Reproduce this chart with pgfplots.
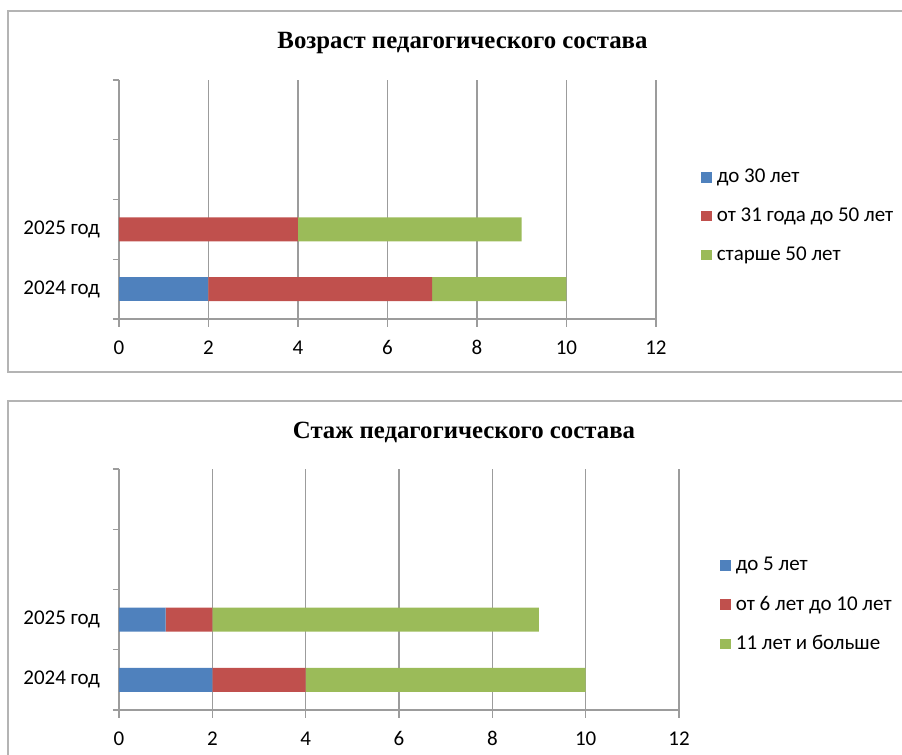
\documentclass[border=0pt]{standalone}
\usepackage{pgfplots}
\pgfplotsset{compat=1.18}
\usepackage{fontspec}
\setmainfont{Carlito}
\newfontfamily\titlefont{Liberation Serif}
\definecolor{cblue}{HTML}{4F81BD}
\definecolor{cred}{HTML}{C0504D}
\definecolor{cgreen}{HTML}{9BBB59}
\definecolor{gridgray}{HTML}{9C9C9C}
\definecolor{framegray}{HTML}{B4B4B4}
\pgfplotsset{
  sqleg/.style={legend image code/.code={\fill[##1,draw=none] (0pt,-2.6pt) rectangle (5.4pt,2.6pt);}},
  mystyle/.style={
    xbar stacked, scale only axis,
    xmin=0, xmax=12, ymin=0, ymax=4,
    xtick={0,2,...,12},
    ytick={0.5,1.5}, yticklabels={2024 год,2025 год},
    minor ytick={0,1,2,3,4},
    axis lines*=left,
    tick align=outside,
    major tick length=4pt, minor tick length=3pt,
    major y tick style={draw=none},
    every tick/.style={gridgray, line width=0.7pt},
    minor y tick style={gridgray, line width=0.7pt},
    axis line style={gridgray, line width=0.7pt},
    xmajorgrids, grid style={gridgray, line width=0.7pt},
    bar width=12pt,
    tick label style={font=\fontsize{10.5}{12}\selectfont},
    /pgf/number format/assume math mode=true,
    xticklabel style={yshift=-3pt, text height=7.2pt, text depth=0pt},
    yticklabel style={xshift=-2pt},
    legend style={draw=none, fill=none, anchor=west,
      font=\fontsize{10.5}{12}\selectfont, row sep=7pt,
      nodes={inner xsep=2.5pt}},
    legend cell align=left,
  }
}
\begin{document}
\begin{tikzpicture}
\useasboundingbox (0,0) rectangle (451pt,377.5pt);
\clip (0,0) rectangle (451pt,377.5pt);
\draw[framegray, line width=0.8pt] (460pt,372pt) -- (4pt,372pt) -- (4pt,191.5pt) -- (460pt,191.5pt);
\draw[framegray, line width=0.8pt] (460pt,177pt) -- (4pt,177pt) -- (4pt,-10pt);
\node[font=\titlefont\bfseries\fontsize{12.4}{14}\selectfont] at (231.25pt,356pt) {Возраст педагогического состава};
\node[font=\titlefont\bfseries\fontsize{12.4}{14}\selectfont] at (232pt,161.5pt) {Стаж педагогического состава};
\begin{axis}[mystyle, at={(59.5pt,218pt)}, anchor=south west,
  width=268.5pt, height=119.5pt,
  legend style={at={(1.072,0.43)}}]
\addplot[fill=cblue, draw=none, sqleg] coordinates {(2,0.5) (0,1.5)};
\addplot[fill=cred, draw=none, sqleg] coordinates {(5,0.5) (4,1.5)};
\addplot[fill=cgreen, draw=none, sqleg] coordinates {(3,0.5) (5,1.5)};
\legend{до 30 лет, от 31 года до 50 лет, старше 50 лет}
\end{axis}
\begin{axis}[mystyle, at={(59.5pt,22.5pt)}, anchor=south west,
  width=280pt, height=120.5pt,
  legend style={at={(1.062,0.436)}}]
\addplot[fill=cblue, draw=none, sqleg] coordinates {(2,0.5) (1,1.5)};
\addplot[fill=cred, draw=none, sqleg] coordinates {(2,0.5) (1,1.5)};
\addplot[fill=cgreen, draw=none, sqleg] coordinates {(6,0.5) (7,1.5)};
\legend{до 5 лет, от 6 лет до 10 лет, 11 лет и больше}
\end{axis}
\end{tikzpicture}
\end{document}
